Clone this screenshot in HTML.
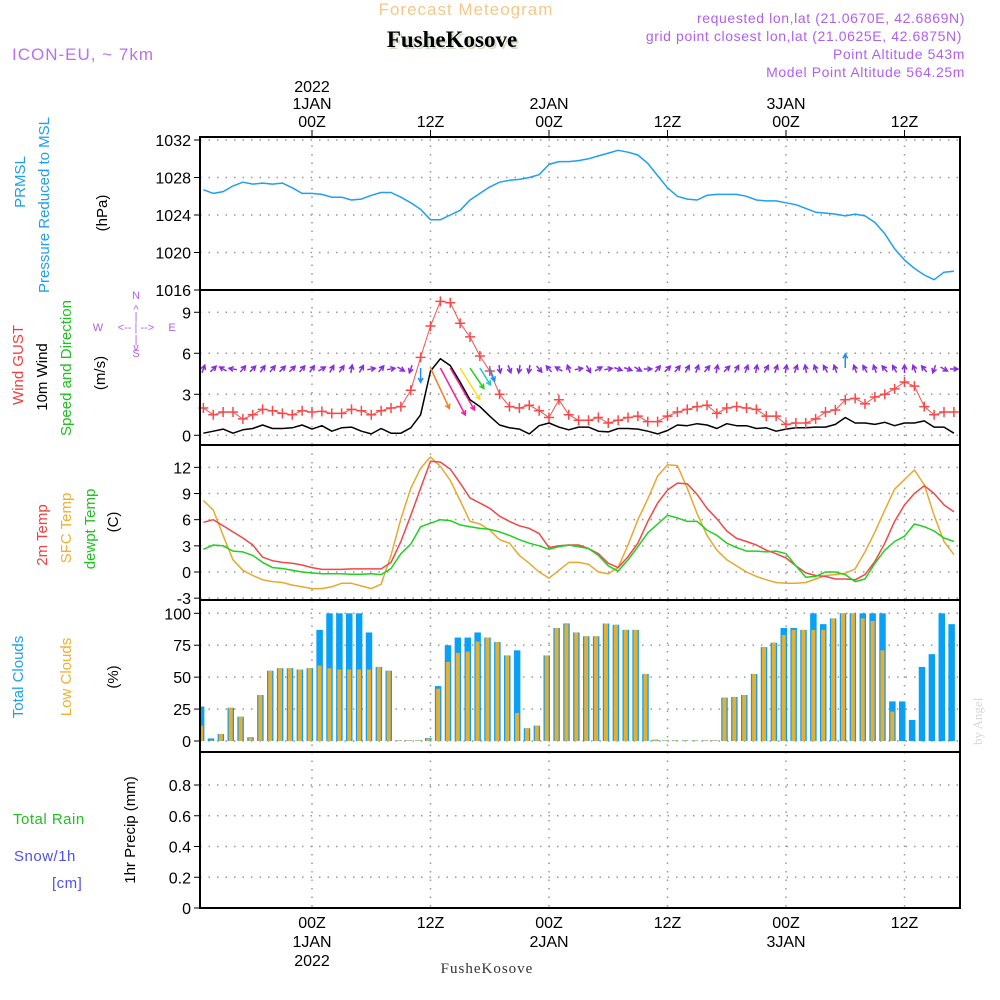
<!DOCTYPE html>
<html><head><meta charset="utf-8">
<style>
html,body{margin:0;padding:0;background:#fff;}
svg{display:block;font-family:"Liberation Sans",sans-serif;}
</style></head>
<body>
<svg id="chart" width="1000" height="1000" viewBox="0 0 1000 1000" xmlns="http://www.w3.org/2000/svg">
<rect x="0" y="0" width="1000" height="1000" fill="#fff"/>
<text x="466" y="15" font-size="17" fill="#f3c888" text-anchor="middle" letter-spacing="1">Forecast Meteogram</text>
<text x="454" y="49" font-size="23" font-weight="bold" font-family="Liberation Serif, serif" fill="#cfdcc8" text-anchor="middle">FusheKosove</text>
<text x="452" y="47" font-size="23" font-weight="bold" font-family="Liberation Serif, serif" fill="#000" text-anchor="middle">FusheKosove</text>
<text x="12" y="60" font-size="17" fill="#b870f0" letter-spacing="1">ICON-EU, ~ 7km</text>
<g font-size="14" fill="#b060f0" text-anchor="end" letter-spacing="0.6">
<text x="965" y="23">requested lon,lat (21.0670E, 42.6869N)</text>
<text x="962" y="41">grid point closest lon,lat (21.0625E, 42.6875N)</text>
<text x="965" y="59">Point Altitude 543m</text>
<text x="965" y="77">Model Point Altitude 564.25m</text>
</g>
<g id="grid"></g>
<g id="marks"></g>
<g id="axes"></g>
<g font-size="15" text-anchor="middle">
<text transform="translate(25,182) rotate(-90)" fill="#1ea0f0">PRMSL</text>
<text transform="translate(49,205) rotate(-90)" fill="#1ea0f0">Pressure Reduced to MSL</text>
<text transform="translate(107,213) rotate(-90)" fill="#000">(hPa)</text>
<text transform="translate(23,365) rotate(-90)" fill="#f04040">Wind GUST</text>
<text transform="translate(47,377) rotate(-90)" fill="#000">10m Wind</text>
<text transform="translate(71,368) rotate(-90)" fill="#20c020">Speed and Direction</text>
<text transform="translate(105,373) rotate(-90)" fill="#000">(m/s)</text>
<text transform="translate(47,535) rotate(-90)" fill="#f04040">2m Temp</text>
<text transform="translate(71,528) rotate(-90)" fill="#f0b030">SFC Temp</text>
<text transform="translate(95,529) rotate(-90)" fill="#20c020">dewpt Temp</text>
<text transform="translate(118,522) rotate(-90)" fill="#000">(C)</text>
<text transform="translate(23,677) rotate(-90)" fill="#1ea0f0">Total Clouds</text>
<text transform="translate(71,677) rotate(-90)" fill="#f0b030">Low Clouds</text>
<text transform="translate(118,677) rotate(-90)" fill="#000">(%)</text>
<text transform="translate(135,830) rotate(-90)" fill="#000">1hr Precip (mm)</text>
</g>
<text x="13" y="824" font-size="15" fill="#20c020" letter-spacing="0.5">Total   Rain</text>
<text x="14" y="861" font-size="15" fill="#5050f0" letter-spacing="0.5">Snow/1h</text>
<text x="52" y="888" font-size="15" fill="#5050f0" letter-spacing="0.5">[cm]</text>
<g font-size="11" fill="#b060f0" text-anchor="middle">
<text x="136" y="299">N</text><text x="136" y="313">^</text><text x="136" y="320">|</text>
<text x="98" y="331">W</text><text x="136" y="331">&lt;-- | --&gt;</text><text x="172" y="331">E</text>
<text x="136" y="343">|</text><text x="136" y="351">v</text><text x="136" y="357">S</text>
</g>
<text transform="translate(982,745) rotate(-90)" font-size="13" font-family="Liberation Serif, serif" fill="#d8d8d8">by Angel</text>
<text x="487" y="973" font-size="15" font-family="Liberation Serif, serif" fill="#333" text-anchor="middle" letter-spacing="1">FusheKosove</text>
</svg>
<script>
const hours = [];
for (let h = -11; h <= 65; h++) hours.push(h);
const pressure = [1026.7,1026.3,1026.5,1027.1,1027.5,1027.3,1027.4,1027.3,1027.4,1026.9,1026.3,1026.3,1026.2,1025.9,1025.9,1025.6,1025.7,1026.1,1026.4,1026.4,1025.9,1025.3,1024.6,1023.5,1023.5,1024.0,1024.5,1025.6,1026.3,1027.0,1027.5,1027.7,1027.8,1028.0,1028.3,1029.4,1029.7,1029.7,1029.8,1030.0,1030.3,1030.6,1030.9,1030.7,1030.4,1029.5,1028.2,1026.9,1026.0,1025.7,1025.6,1026.1,1026.2,1026.2,1026.2,1026.0,1025.6,1025.5,1025.5,1025.3,1025.1,1024.7,1024.3,1024.2,1024.1,1023.9,1024.1,1023.9,1023.2,1022.0,1020.4,1019.2,1018.3,1017.6,1017.1,1017.9,1018.0];
const gust = [2.0,1.5,1.7,1.7,1.2,1.5,1.9,1.8,1.6,1.5,1.8,1.7,1.75,1.6,1.6,1.9,1.8,1.5,1.8,2.0,2.1,3.3,5.7,8.0,9.8,9.7,8.2,7.2,5.8,4.7,3.0,2.1,2.0,2.2,1.8,1.3,2.6,1.5,1.1,1.1,1.3,0.9,1.1,1.3,1.4,1.0,1.0,1.4,1.7,1.9,2.1,2.2,1.6,2.0,2.1,2.0,1.9,1.4,1.4,0.8,0.9,0.9,1.2,1.7,1.85,2.6,2.7,2.3,2.8,3.0,3.4,3.9,3.6,2.1,1.5,1.7,1.7];
const wind10 = [0.15,0.3,0.45,0.15,0.4,0.5,0.75,0.5,0.5,0.55,0.75,0.45,0.7,0.3,0.55,0.6,0.3,0.1,0.5,0.15,0.15,0.55,1.5,4.7,5.6,5.1,3.9,2.6,2.1,1.4,0.75,0.55,0.45,0.1,0.7,0.9,0.6,0.4,0.6,0.6,0.3,0.25,0.5,0.5,0.45,0.3,0.1,0.35,0.75,0.7,0.85,0.75,0.5,0.85,0.7,0.7,0.5,0.55,0.3,0.45,0.55,0.55,0.6,0.6,0.8,1.3,0.9,0.9,0.8,0.95,0.7,0.9,0.9,1.05,0.6,0.6,0.15];
const windDir = [20,45,300,280,40,45,35,40,45,45,40,35,60,30,35,10,30,80,40,80,120,200,180,155,152,150,148,146,148,160,170,160,190,190,140,320,300,340,80,150,60,80,110,110,120,90,40,45,40,30,20,40,10,45,30,20,10,30,20,10,20,350,340,330,340,0,340,330,340,320,330,0,340,320,200,120,90];
const temp2m = [5.7,6.0,5.3,4.6,3.9,3.1,1.7,1.3,1.1,1.0,0.8,0.5,0.3,0.3,0.3,0.35,0.35,0.35,0.35,1.1,3.5,6.5,9.6,12.7,12.6,11.8,10.2,8.5,7.9,7.3,6.4,5.8,5.3,5.0,4.4,2.8,3.0,3.1,3.1,2.7,2.1,1.0,0.5,1.75,3.3,5.8,7.9,9.4,10.2,10.1,8.9,7.3,6.1,4.7,3.85,3.5,3.1,2.5,2.1,1.6,0.7,-0.1,-0.4,-0.5,-0.8,-0.8,-0.9,-0.3,1.2,3.3,5.8,7.7,9.0,9.9,9.0,7.7,6.9];
const sfcTemp = [8.2,7.1,4.2,1.4,0.2,-0.4,-0.9,-1.1,-1.2,-1.5,-1.7,-1.9,-1.9,-1.7,-1.3,-1.3,-1.6,-1.9,-1.4,1.9,6.1,9.6,11.9,13.2,12.1,10.5,8.2,5.8,5.5,4.8,3.7,3.3,1.9,1.0,0.0,-0.7,0.2,1.1,1.1,0.9,0.0,-0.2,0.5,3.1,6.0,8.4,11.0,12.3,12.2,9.6,6.7,4.2,2.5,1.4,0.7,0.0,-0.5,-0.9,-1.2,-1.3,-1.3,-1.2,-0.8,-0.4,-0.3,-0.15,0.35,2.3,4.6,7.1,9.5,10.6,11.7,10.0,6.5,3.5,2.0];
const dewpt = [2.6,3.1,3.0,2.4,2.3,1.9,1.1,0.5,0.4,0.2,0.0,-0.1,-0.2,-0.2,-0.2,-0.25,-0.25,-0.2,-0.3,0.4,2.1,3.2,5.2,5.6,6.0,5.9,5.4,5.2,5.0,4.9,4.6,4.2,3.7,3.3,3.0,2.6,2.9,3.1,2.9,2.7,1.9,0.7,0.1,1.4,2.9,4.5,5.5,6.5,6.2,5.8,5.8,4.8,4.2,3.3,2.8,2.4,2.4,2.3,2.4,2.1,0.7,-0.6,-0.5,0.0,0.0,-0.3,-1.1,-0.8,1.0,2.5,3.5,4.1,5.5,5.2,4.7,3.9,3.5];
const totalCloud = [27,2,5.5,26,19,3,36,55,57,57,56,57,87,100,100,100,100,85,58,55,0.5,0.5,0.5,2.3,43,75,81,81,85,81,77.5,67,71,10,12,67,88.5,92,85,82,82,92,91,87,87,52.5,1,0.5,0.5,0.5,0.5,0.5,0.5,34,34.5,36,52.5,73.5,77,88.5,88.5,87,100,91.5,96,100,100,100,100,100,31,31,16.5,58,68,100,91.5];
const lowCloud = [12,0.5,5.5,26,19,3,36,55,57,57,56,57,59,57,56,56,56,56,58,55,0.5,0.5,0.5,2,41,62,69,70,78,81,77.5,67,22,10,12,67,88.5,91.5,85,82,82,92,91,87,87,52.5,1,0.5,0.5,0.5,0.5,0.5,0.5,34,34.5,36,52.5,73.5,77,83,87,87,87,87,96,100,100,96,94,71,23,0,0,0,0,0,0];
const pTicks = [1016,1020,1024,1028,1032];
const wTicks = [0,3,6,9];
const tTicks = [-3,0,3,6,9,12];
const cTicks = [0,25,50,75,100];
const rTicks = [0,0.2,0.4,0.6,0.8];
const timeTicks = [0,12,24,36,48,60];
const timeLabels = ["00Z","12Z","00Z","12Z","00Z","12Z"];
const dateLabels = ["1JAN","","2JAN","","3JAN",""];

const NS = "http://www.w3.org/2000/svg";
const L = 200, R = 960;
const xs = h => 312 + h * 9.875;
const yP = v => 140 + (1032 - v) * 9.375;
const yW = v => 435.3 - v * 13.67;
const yT = v => 572 - v * 8.72;
const yC = v => 741 - v * 1.277;
const yR = v => 908 - v * 153.75;
const panels = [[137,290],[290,445],[445,600],[600,752],[752,908]];
const gGrid = document.getElementById('grid');
const gMarks = document.getElementById('marks');
const gAxes = document.getElementById('axes');
function mk(tag, attrs, parent) {
  const e = document.createElementNS(NS, tag);
  for (const k in attrs) e.setAttribute(k, attrs[k]);
  parent.appendChild(e);
  return e;
}
panels.forEach((p, pi) => {
  timeTicks.forEach(t => {
    const g = mk('line', {x1: xs(t), x2: xs(t), y1: p[0], y2: p[1], stroke: '#999', 'stroke-width': 1.5, 'stroke-dasharray': '1.5,7'}, gGrid);
    
    
  });
});
function hgrid(ticks, yf, fmt, name) {
  ticks.forEach(v => {
    const y = yf(v);
    const g = mk('line', {x1: L, x2: R, y1: y, y2: y, stroke: '#999', 'stroke-width': 1.5, 'stroke-dasharray': '1.5,7'}, gGrid);
    
    
    const tk = mk('line', {x1: L - 6, x2: L, y1: y, y2: y, stroke: '#000', 'stroke-width': 1}, gAxes);
    
    
    const t = mk('text', {x: L - 9, y: y + 6, 'font-size': 16, 'text-anchor': 'end', fill: '#000'}, gAxes);
    t.textContent = fmt(v);
    
    
  });
}
hgrid(pTicks, yP, v => v, 'pressure');
hgrid(wTicks, yW, v => v, 'wind');
hgrid(tTicks, yT, v => v, 'temp');
hgrid(cTicks, yC, v => v, 'cloud');
hgrid(rTicks, yR, v => v === 0 ? '0' : v.toFixed(1), 'precip');

hours.forEach((h, i) => {
  const x = xs(h);
  const tv = totalCloud[i], lv = lowCloud[i];
  let x0 = Math.max(L, x - 5.5), x1 = Math.min(R, x + 1);
  if (x1 > x0) {
    const b = mk('rect', {x: x0, y: yC(tv), width: x1 - x0, height: yC(0) - yC(tv), fill: '#0aa0f5'}, gMarks);
    
    
  }
  x0 = Math.max(L, x - 4.3); x1 = Math.min(R, x - 0.3);
  if (x1 > x0 && lv > 0) {
    const b2 = mk('rect', {x: x0, y: yC(lv), width: x1 - x0, height: yC(0) - yC(lv), fill: '#e8ae30'}, gMarks);
    
    
  }
});

function line(arr, yf, color, name, w) {
  const pts = hours.map((h, i) => xs(h).toFixed(1) + ',' + yf(arr[i]).toFixed(1)).join(' ');
  const p = mk('polyline', {points: pts, fill: 'none', stroke: color, 'stroke-width': w || 1.5, 'stroke-linejoin': 'round'}, gMarks);
  
  
}
line(pressure, yP, '#1ea0f0', 'pressure-line');
line(sfcTemp, yT, '#e8a830', 'sfc-temp-line');
line(temp2m, yT, '#f04848', 'temp-2m-line');
line(dewpt, yT, '#20d020', 'dewpoint-line');
line(wind10, yW, '#000', 'wind-10m-line');
line(gust, yW, '#f85050', 'gust-line', 1);
hours.forEach((h, i) => {
  const x = xs(h), y = yW(gust[i]);
  const m = mk('path', {d: `M${x-5},${y}H${x+5}M${x},${y-5}V${y+5}`, stroke: '#f84848', 'stroke-width': 1.5}, gMarks);
  
  
});
function arrowColor(s) {
  if (s >= 5) return '#f020a0';
  if (s >= 4.2) return '#f08020';
  if (s >= 3.5) return '#f0e020';
  if (s >= 2.4) return '#20d020';
  if (s >= 1.8) return '#20c8d0';
  if (s >= 1.25) return '#2090f0';
  return '#8a2be2';
}
hours.forEach((h, i) => {
  const s = wind10[i];
  const big = s >= 1.25;
  const len = big ? Math.max(14, s * 9.5) : 8;
  const a = windDir[i] * Math.PI / 180;
  const dx = Math.sin(a) * len, dy = -Math.cos(a) * len;
  const x0 = big ? xs(h) : xs(h) - dx / 2, y0 = big ? 368 : 369 - dy / 2;
  const x1 = x0 + dx, y1 = y0 + dy;
  const hl = 5, ang = Math.atan2(dy, dx);
  const hx1 = x1 - hl * Math.cos(ang - 0.5), hy1 = y1 - hl * Math.sin(ang - 0.5);
  const hx2 = x1 - hl * Math.cos(ang + 0.5), hy2 = y1 - hl * Math.sin(ang + 0.5);
  const ar = mk('path', {d: `M${x0},${y0}L${x1},${y1}M${hx1},${hy1}L${x1},${y1}L${hx2},${hy2}`, stroke: arrowColor(s), 'stroke-width': 1.5, fill: 'none'}, gMarks);
  
  
});

panels.forEach((p, pi) => {
  const f = mk('rect', {x: L, y: p[0], width: R - L, height: p[1] - p[0], fill: 'none', stroke: '#000', 'stroke-width': 2}, gAxes);
  
  
});
timeTicks.forEach((t, i) => {
  const x = xs(t);
  const tk = mk('line', {x1: x, x2: x, y1: 130, y2: 137, stroke: '#000'}, gAxes);
  
  
  const a = mk('text', {x: x, y: 127, 'font-size': 16, 'text-anchor': 'middle', fill: '#000'}, gAxes);
  a.textContent = timeLabels[i];
  
  
  const b = mk('text', {x: x, y: 928, 'font-size': 16, 'text-anchor': 'middle', fill: '#000'}, gAxes);
  b.textContent = timeLabels[i];
  
  
  if (dateLabels[i]) {
    const d = mk('text', {x: x, y: 109, 'font-size': 16, 'text-anchor': 'middle', fill: '#000'}, gAxes);
    d.textContent = dateLabels[i];
    
    
    const d2 = mk('text', {x: x, y: 947, 'font-size': 16, 'text-anchor': 'middle', fill: '#000'}, gAxes);
    d2.textContent = dateLabels[i];
    
    
  }
});
const y1 = mk('text', {x: xs(0), y: 92, 'font-size': 16, 'text-anchor': 'middle', fill: '#000'}, gAxes);
y1.textContent = '2022';


const y2 = mk('text', {x: xs(0), y: 966, 'font-size': 16, 'text-anchor': 'middle', fill: '#000'}, gAxes);
y2.textContent = '2022';


</script>
</body></html>
